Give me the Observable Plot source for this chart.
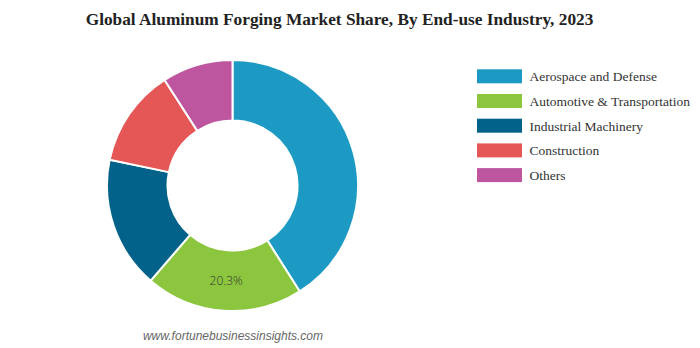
<!DOCTYPE html>
<html><head><meta charset="utf-8">
<script src="https://cdn.jsdelivr.net/npm/d3@7"></script>
<script src="https://cdn.jsdelivr.net/npm/@observablehq/plot@0.6"></script>
<style>body{margin:0;background:#fff}</style>
</head><body><div id="chart"></div>
<script>
const categories = ["Aerospace and Defense","Automotive & Transportation","Industrial Machinery","Construction","Others"];
const shares = [41.0, 20.3, 17.0, 12.6, 9.1];
const colors = ["#1c9ac3","#8cc63f","#03628a","#e45756","#bd569f"];
const shownLabels = ["", "20.3%", "", "", ""];
const titleText = "Global Aluminum Forging Market Share, By End-use Industry, 2023";
const sourceText = "www.fortunebusinessinsights.com";

const W = 700, H = 348;
const cx = 232.5, cy = 185.5, rOuter = 125.5, rInner = 65;
const legX1 = 477, legX2 = 522, legTextX = 529, legY0 = 76.3, legStep = 24.7, legH = 14;

const data = categories.map((c, i) => ({category: c, share: shares[i], label: shownLabels[i], i}));
const arcs = d3.pie().sort(null).value(d => d.share)(data);
const arcGen = d3.arc().innerRadius(rInner).outerRadius(rOuter);
const labelData = arcs.filter(a => a.data.label).map(a => {
  const [dx, dy] = arcGen.centroid(a);
  return {x: cx + dx, y: cy + dy, label: a.data.label};
});

const donut = (index, scales) => {
  const g = d3.create("svg:g").attr("transform", `translate(${scales.x(cx)},${scales.y(cy)})`);
  g.selectAll("path").data(arcs).join("path")
    .attr("d", arcGen)
    .attr("fill", d => scales.color(d.data.category))
    .attr("stroke", "#fff")
    .attr("stroke-width", 2)
    .attr("stroke-linejoin", "round");
  return g.node();
};

const chart = Plot.plot({
  width: W, height: H, margin: 0,
  style: {background: "#fff", overflow: "visible"},
  x: {domain: [0, W], range: [0, W], axis: null},
  y: {domain: [0, H], range: [0, H], axis: null},
  color: {domain: categories, range: colors},
  marks: [
    Plot.text([titleText], {x: 339, y: 24, text: d => d, lineAnchor: "bottom", textAnchor: "middle",
      fontFamily: "Liberation Serif", fontWeight: "bold", fontSize: 17.3, fill: "#222"}),
    Plot.rect(data, {x1: legX1, x2: legX2, y1: d => legY0 + d.i * legStep - legH / 2, y2: d => legY0 + d.i * legStep + legH / 2,
      fill: "category"}),
    Plot.text(data, {x: legTextX, y: d => legY0 + d.i * legStep + 4.4, text: "category", lineAnchor: "bottom", textAnchor: "start",
      fontFamily: "Liberation Serif", fontSize: 13.5, fill: "#333"}),
    donut,
    Plot.text(labelData, {x: "x", y: "y", text: "label", fontFamily: "Open Sans", fontWeight: 300, fontSize: 12, fill: "#333"}),
    Plot.text([sourceText], {x: 232.5, y: 339, text: d => d, lineAnchor: "bottom", textAnchor: "middle",
      fontFamily: "Liberation Sans", fontStyle: "italic", fontSize: 12, fill: "#666"})
  ]
});
document.getElementById("chart").append(chart);
</script>
</body></html>
